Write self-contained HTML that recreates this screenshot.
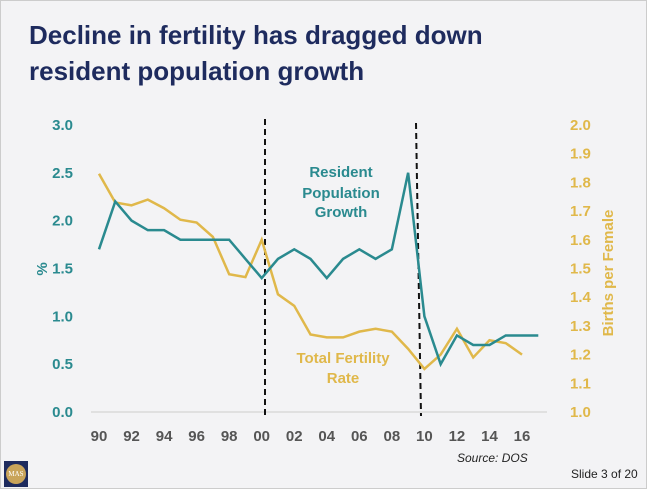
<!DOCTYPE html>
<html><head><meta charset="utf-8"><style>
body{margin:0;background:#fff}
#slide{position:relative;width:647px;height:489px;background:#f3f3f5;overflow:hidden;font-family:"Liberation Sans",sans-serif;border:1px solid #ccc;box-sizing:border-box}
h1{position:absolute;left:28px;top:16px;margin:0;font-size:26px;line-height:36px;color:#1e2b5e;font-weight:bold}
</style></head><body>
<div id="slide">
<h1>Decline in fertility has dragged down<br>resident population growth</h1>
<svg id="chart" width="647" height="489" style="position:absolute;left:0;top:0"></svg>
<div style="position:absolute;left:3px;top:460px;width:24px;height:26px;background:#1e2b5e"><div style="margin:3px 2px;width:20px;height:20px;border-radius:50%;background:#c9a45a;color:#fff;font-size:7px;text-align:center;line-height:20px;font-family:'Liberation Serif',serif">MAS</div></div>
<div style="position:absolute;left:456px;top:450px;font-size:12px;font-style:italic;color:#222">Source: DOS</div>
<div style="position:absolute;left:570px;top:466px;font-size:12px;color:#222">Slide 3 of 20</div>
</div>
<script>
const years=[90,91,92,93,94,95,96,97,98,99,0,1,2,3,4,5,6,7,8,9,10,11,12,13,14,15,16,17];
const popGrowth=[1.7,2.2,2.0,1.9,1.9,1.8,1.8,1.8,1.8,1.6,1.4,1.6,1.7,1.6,1.4,1.6,1.7,1.6,1.7,2.5,1.0,0.5,0.8,0.7,0.7,0.8,0.8,0.8];
const tfr=[1.83,1.73,1.72,1.74,1.71,1.67,1.66,1.61,1.48,1.47,1.60,1.41,1.37,1.27,1.26,1.26,1.28,1.29,1.28,1.22,1.15,1.20,1.29,1.19,1.25,1.24,1.20];
const xTicks=["90","92","94","96","98","00","02","04","06","08","10","12","14","16"];
const leftTicks=[0,0.5,1.0,1.5,2.0,2.5,3.0];
const rightTicks=[1.0,1.1,1.2,1.3,1.4,1.5,1.6,1.7,1.8,1.9,2.0];
const svg=document.getElementById('chart');const NS='http://www.w3.org/2000/svg';
const x=i=>98+i*16.27;
const yL=v=>411-v*95.7;
const yR=v=>411-(v-1)*287;
function mk(t,a){const e=document.createElementNS(NS,t);for(const k in a)e.setAttribute(k,a[k]);svg.appendChild(e);return e;}
let e=mk('line',{x1:90,x2:546,y1:411,y2:411,stroke:'#ccc','stroke-width':1});


leftTicks.forEach(v=>{const t=mk('text',{x:72,y:yL(v)+5,'text-anchor':'end','font-size':15,'font-weight':'bold',fill:'#2a8a8f'});t.textContent=v.toFixed(1);

});
rightTicks.forEach(v=>{const t=mk('text',{x:569,y:yR(v)+5,'font-size':15,'font-weight':'bold',fill:'#e0b84a'});t.textContent=v.toFixed(1);

});
xTicks.forEach((s,i)=>{const t=mk('text',{x:x(i*2),y:440,'text-anchor':'middle','font-size':15,'font-weight':'bold',fill:'#555'});t.textContent=s;

});
let t=mk('text',{x:0,y:0,'font-size':15,'font-weight':'bold',fill:'#2a8a8f',transform:'translate(46,268) rotate(-90)','text-anchor':'middle'});t.textContent='%';


t=mk('text',{x:0,y:0,'font-size':15,'font-weight':'bold',fill:'#e0b84a',transform:'translate(612,272) rotate(-90)','text-anchor':'middle'});t.textContent='Births per Female';


e=mk('line',{x1:264,x2:264,y1:118,y2:415,stroke:'#111','stroke-width':2,'stroke-dasharray':'6,4'});


e=mk('line',{x1:415,x2:420,y1:122,y2:415,stroke:'#111','stroke-width':2,'stroke-dasharray':'6,4'});


e=mk('polyline',{points:tfr.map((v,i)=>x(i)+','+yR(v)).join(' '),fill:'none',stroke:'#e0b84a','stroke-width':2.5});


e=mk('polyline',{points:popGrowth.map((v,i)=>x(i)+','+yL(v)).join(' '),fill:'none',stroke:'#2a8a8f','stroke-width':2.5});


[['Resident',176],['Population',197],['Growth',216]].forEach(([s,yy])=>{const q=mk('text',{x:340,y:yy,'text-anchor':'middle','font-size':15,'font-weight':'bold',fill:'#2a8a8f'});q.textContent=s;

});
[['Total Fertility',362],['Rate',382]].forEach(([s,yy])=>{const q=mk('text',{x:342,y:yy,'text-anchor':'middle','font-size':15,'font-weight':'bold',fill:'#e0b84a'});q.textContent=s;

});
</script>
</body></html>
